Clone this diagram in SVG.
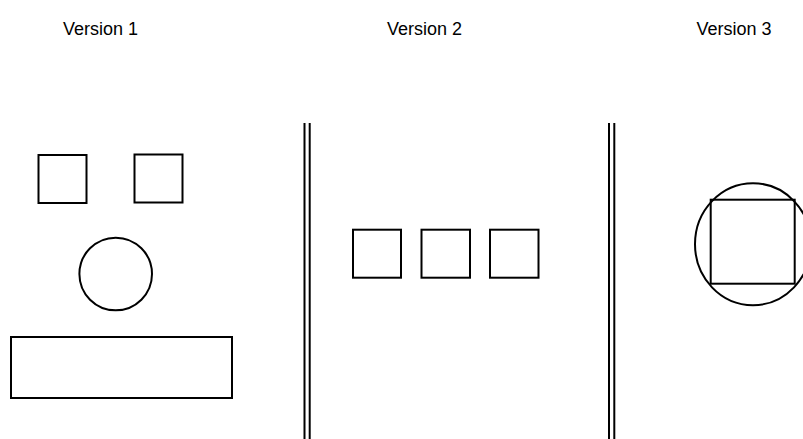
<svg xmlns="http://www.w3.org/2000/svg" width="803" height="439" viewBox="0 0 803 439">
<style>
.s{fill:none;stroke:#000;stroke-width:2}
.t{font-family:"Liberation Sans",Arial,sans-serif;font-size:18px;fill:#000;text-anchor:middle}
</style>
<rect width="803" height="439" fill="#fff"/>
<g id="labels">
<text class="t" x="100.5" y="35">Version 1</text>
<text class="t" x="424.5" y="35">Version 2</text>
<text class="t" x="734" y="35">Version 3</text>
</g>
<g id="dividers">
<line class="s" x1="304.5" y1="123" x2="304.5" y2="439"/>
<line class="s" x1="309.7" y1="123" x2="309.7" y2="439"/>
<line class="s" x1="609" y1="123" x2="609" y2="439"/>
<line class="s" x1="614.3" y1="123" x2="614.3" y2="439"/>
</g>
<g id="v1-square-a"><rect class="s" x="38.5" y="155" width="48" height="48"/></g>
<g id="v1-square-b"><rect class="s" x="134.5" y="154.5" width="48" height="48"/></g>
<g id="v1-circle"><circle class="s" cx="115.7" cy="274" r="36.3"/></g>
<g id="v1-rect"><rect class="s" x="11" y="337" width="221" height="61"/></g>
<g id="v2-square-a"><rect class="s" x="353" y="229.7" width="48" height="48"/></g>
<g id="v2-square-b"><rect class="s" x="421.5" y="229.7" width="48.5" height="48"/></g>
<g id="v2-square-c"><rect class="s" x="490" y="229.7" width="48.5" height="48"/></g>
<g id="v3-circle"><ellipse class="s" cx="753" cy="244.2" rx="58" ry="61"/></g>
<g id="v3-square"><rect class="s" x="710.7" y="199.7" width="84" height="84"/></g>
</svg>
